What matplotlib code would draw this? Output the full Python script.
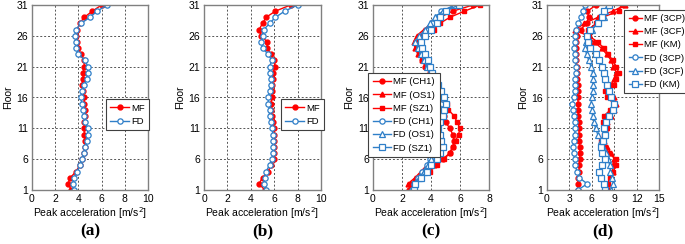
import numpy as np
import matplotlib
matplotlib.use("Agg")
import matplotlib.pyplot as plt

plt.rcParams['font.family'] = ['Liberation Sans', 'DejaVu Sans']

floors = np.arange(1, 32)

# (a)
a_mf = [3.4, 3.1, 3.3, 3.8, 4.1, 4.3, 4.5, 4.6, 4.6, 4.5, 4.5, 4.5, 4.6, 4.6, 4.5, 4.5,
        4.4, 4.3, 4.4, 4.4, 4.5, 4.5, 4.2, 4.0, 3.9, 3.8, 3.9, 4.1, 4.5, 5.2, 6.0]
a_fd = [3.6, 3.5, 3.6, 3.9, 4.1, 4.3, 4.5, 4.6, 4.7, 4.8, 4.8, 4.6, 4.5, 4.4, 4.3, 4.2,
        4.3, 4.5, 4.7, 4.8, 4.8, 4.6, 4.0, 3.8, 3.8, 3.7, 3.8, 4.2, 5.0, 5.6, 6.5]

# (b)
b_mf = [5.2, 4.7, 5.0, 5.5, 5.7, 6.0, 6.0, 6.0, 6.0, 6.0, 6.0, 5.9, 5.8, 5.7, 5.7, 5.8,
        5.8, 5.8, 5.9, 5.9, 6.1, 6.0, 5.7, 5.4, 5.4, 4.9, 4.7, 5.0, 5.3, 6.1, 7.4]
b_fd = [5.3, 5.1, 5.2, 5.3, 5.6, 5.8, 5.9, 5.9, 5.9, 5.9, 5.8, 5.7, 5.6, 5.6, 5.5, 5.5,
        5.6, 5.7, 5.7, 5.6, 5.6, 5.8, 5.5, 5.0, 4.9, 5.0, 5.1, 5.6, 6.1, 6.9, 8.0]

# (c)
c_labels = ['MF (CH1)', 'MF (OS1)', 'MF (SZ1)', 'FD (CH1)', 'FD (OS1)', 'FD (SZ1)']
c_mf_ch1 = [2.5, 2.6, 3.2, 3.8, 4.3, 4.8, 5.3, 5.5, 5.6, 5.5, 5.3, 5.0, 4.9, 4.8, 4.7, 4.5,
            4.4, 4.3, 4.1, 3.9, 3.6, 3.4, 3.3, 3.1, 3.0, 3.3, 3.7, 4.1, 4.6, 5.5, 6.9]
c_mf_os1 = [2.6, 2.4, 2.9, 3.3, 3.7, 4.0, 4.2, 4.3, 4.3, 4.4, 4.4, 4.5, 4.5, 4.6, 4.6, 4.6,
            4.5, 4.4, 4.2, 4.0, 3.7, 3.4, 3.1, 2.9, 2.8, 3.0, 3.5, 4.0, 4.4, 5.0, 5.8]
c_mf_sz1 = [2.7, 2.7, 3.3, 3.9, 4.4, 4.9, 5.3, 5.5, 5.7, 5.9, 6.0, 5.8, 5.6, 5.2, 5.1, 4.8,
            4.5, 4.3, 4.2, 4.0, 3.8, 3.5, 3.2, 3.0, 3.2, 3.5, 4.2, 4.6, 5.3, 6.3, 7.4]
c_fd_ch1 = [2.7, 2.8, 3.1, 3.4, 3.7, 3.9, 4.0, 4.1, 4.2, 4.3, 4.4, 4.5, 4.5, 4.6, 4.7, 4.7,
            4.6, 4.4, 4.2, 4.0, 3.8, 3.6, 3.4, 3.2, 3.3, 3.5, 3.8, 4.1, 4.4, 4.7, 5.8]
c_fd_os1 = [2.7, 2.9, 3.2, 3.5, 3.8, 4.0, 4.1, 4.2, 4.2, 4.3, 4.3, 4.4, 4.4, 4.5, 4.5, 4.5,
            4.5, 4.3, 4.1, 3.9, 3.7, 3.5, 3.3, 3.1, 2.9, 3.2, 3.6, 3.9, 4.3, 4.8, 5.6]
c_fd_sz1 = [2.8, 2.9, 3.3, 3.7, 4.0, 4.4, 4.6, 4.8, 4.7, 4.6, 4.5, 4.6, 4.8, 4.9, 5.0, 4.9,
            4.7, 4.5, 4.3, 4.1, 3.9, 3.8, 3.6, 3.4, 3.3, 3.6, 4.0, 4.4, 4.6, 5.0, 5.9]

# (d)
d_labels = ['MF (3CP)', 'MF (3CF)', 'MF (KM)', 'FD (3CP)', 'FD (3CF)', 'FD (KM)']
d_mf_3cp = [4.2, 4.1, 4.2, 4.3, 4.3, 4.4, 4.4, 4.4, 4.3, 4.3, 4.3, 4.3, 4.2, 4.2, 4.2, 4.1,
            4.1, 4.1, 4.0, 4.0, 4.0, 3.9, 3.9, 3.9, 3.9, 4.0, 4.5, 5.3, 5.6, 5.4, 6.6]
d_mf_3cf = [8.3, 8.0, 8.6, 8.8, 8.8, 9.0, 8.6, 8.0, 7.6, 7.8, 7.9, 8.1, 8.6, 9.0, 9.2, 9.0,
            8.2, 8.5, 9.0, 9.3, 8.9, 8.6, 8.0, 7.3, 6.3, 5.4, 3.8, 5.0, 6.8, 8.8, 10.5]
d_mf_km = [7.8, 8.2, 8.4, 8.9, 9.2, 9.3, 8.2, 7.8, 7.2, 7.6, 8.0, 7.5, 7.6, 8.5, 9.0, 8.0,
           7.8, 9.0, 9.2, 9.6, 9.3, 8.8, 8.2, 7.6, 6.8, 5.6, 5.5, 6.6, 7.4, 9.6, 10.0]
d_fd_3cp = [4.1, 5.4, 4.3, 4.0, 3.8, 3.7, 3.6, 3.5, 3.6, 3.7, 3.8, 3.7, 3.6, 3.5, 3.4, 3.6,
            3.7, 3.8, 3.8, 3.9, 3.9, 3.8, 3.7, 3.6, 3.7, 3.8, 3.9, 4.2, 4.6, 4.8, 5.1]
d_fd_3cf = [8.6, 8.9, 8.7, 8.5, 8.4, 8.2, 7.9, 7.5, 7.2, 6.8, 6.5, 6.3, 6.1, 6.0, 5.9, 6.0,
            6.1, 6.2, 6.2, 6.1, 5.9, 5.6, 5.3, 5.1, 5.2, 5.4, 6.0, 6.8, 7.6, 7.8, 8.2]
d_fd_km = [7.8, 7.6, 7.2, 7.0, 7.4, 7.8, 7.4, 7.2, 7.5, 7.8, 7.7, 7.9, 8.3, 8.8, 9.0, 8.6,
           8.3, 8.0, 7.8, 7.6, 7.4, 7.0, 6.5, 5.8, 5.5, 5.3, 5.8, 6.8, 7.3, 7.6, 8.3]

RED = '#ff0000'
BLUE = '#2f7fc8'

fig = plt.figure(figsize=(6.85, 2.44), dpi=100)

boxes = [(32, 116), (204, 117), (373, 116), (547, 112)]
axes = []
for left, w in boxes:
    ax = fig.add_axes([left / 685, 1 - 190 / 244, w / 685, 185 / 244])
    axes.append(ax)


def style(ax, xmax, xstep, letter):
    ax.set_xlim(0, xmax)
    ax.set_ylim(1, 31)
    ax.set_xticks(np.arange(0, xmax + 0.1, xstep))
    ax.set_yticks([1, 6, 11, 16, 21, 26, 31])
    ax.grid(True, linestyle=(0, (2, 2)), color='#555555', linewidth=0.7)
    ax.tick_params(labelsize=7.5, length=0, pad=3)
    for s in ax.spines.values():
        s.set_color('#808080')
        s.set_linewidth(1.0)
    ax.set_xlabel('Peak acceleration [m/s$^2$]', fontsize=7.5, labelpad=1)
    ax.set_ylabel('Floor', fontsize=7.5, labelpad=2)
    pos = ax.get_position()
    fig.text((pos.x0 + pos.x1) / 2, 1 - 231 / 244, letter, ha='center', va='center',
             fontsize=12.5, fontweight='bold', family='Liberation Serif')


def mf(ax, x, marker, label):
    ax.plot(x, floors, color=RED, marker=marker, markersize=3.5, linewidth=1.0,
            markerfacecolor=RED, markeredgecolor=RED, label=label)


def fd(ax, x, marker, label):
    ax.plot(x, floors, color=BLUE, marker=marker, markersize=3.8, linewidth=1.0,
            markerfacecolor='white', markeredgecolor=BLUE, markeredgewidth=0.9,
            label=label)


def legend(ax, x0, y0, hl=2.0):
    lg = ax.legend(loc='upper left', bbox_to_anchor=(x0, y0), fontsize=6.8,
                   fancybox=False, edgecolor='#404040', framealpha=1,
                   borderaxespad=0, handlelength=hl, handletextpad=0.2,
                   labelspacing=0.45, borderpad=0.45)
    lg.get_frame().set_linewidth(0.8)
    lg.set_zorder(5)


ax = axes[0]
mf(ax, a_mf, 'o', 'MF')
fd(ax, a_fd, 'o', 'FD')
style(ax, 10, 2, '(a)')
legend(ax, 0.64, 0.49)

ax = axes[1]
mf(ax, b_mf, 'o', 'MF')
fd(ax, b_fd, 'o', 'FD')
style(ax, 10, 2, '(b)')
legend(ax, 0.66, 0.49)

ax = axes[2]
for x, m, lab in zip([c_mf_ch1, c_mf_os1, c_mf_sz1], ['o', '^', 's'], c_labels[:3]):
    mf(ax, x, m, lab)
for x, m, lab in zip([c_fd_ch1, c_fd_os1, c_fd_sz1], ['o', '^', 's'], c_labels[3:]):
    fd(ax, x, m, lab)
style(ax, 8, 2, '(c)')
legend(ax, -0.04, 0.632)

ax = axes[3]
for x, m, lab in zip([d_mf_3cp, d_mf_3cf, d_mf_km], ['o', '^', 's'], d_labels[:3]):
    mf(ax, x, m, lab)
for x, m, lab in zip([d_fd_3cp, d_fd_3cf, d_fd_km], ['o', '^', 's'], d_labels[3:]):
    fd(ax, x, m, lab)
style(ax, 15, 3, '(d)')
legend(ax, 0.69, 0.975, hl=1.4)

fig.savefig('out.png', dpi=100)
